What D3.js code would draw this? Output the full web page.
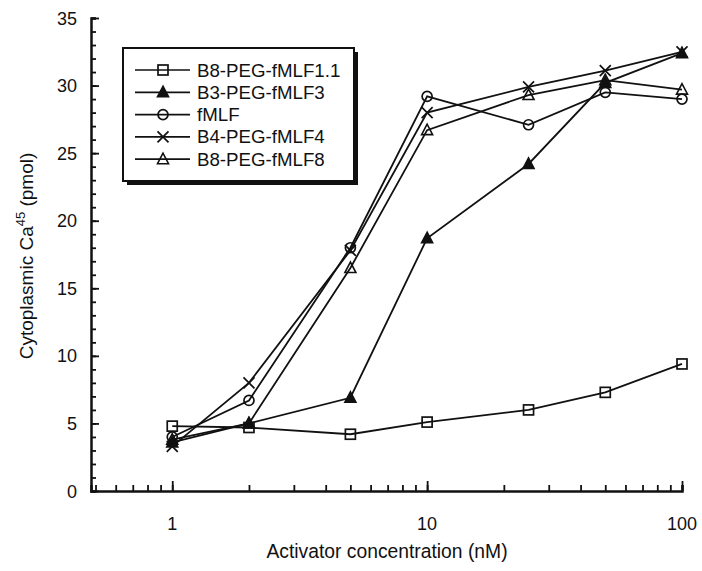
<!DOCTYPE html>
<html><head><meta charset="utf-8">
<script src="https://cdn.jsdelivr.net/npm/d3@7"></script>
<style>body{margin:0;background:#fff} svg{display:block} text{font-family:"Liberation Sans",Arial,Helvetica,sans-serif;fill:#111}</style>
</head><body><svg id="c" width="702" height="571"></svg>
<script>
// ---- data ----
const concentrations = [1, 2, 5, 10, 25, 50, 100];
const seriesNames = ["B8-PEG-fMLF1.1", "B3-PEG-fMLF3", "fMLF", "B4-PEG-fMLF4", "B8-PEG-fMLF8"];
const seriesMarkers = ["square", "filledTriangle", "circle", "cross", "triangle"];
const b8fmlf11 = [4.8, 4.7, 4.2, 5.1, 6.0, 7.3, 9.4];
const b3fmlf3  = [3.6, 5.0, 6.9, 18.7, 24.2, 30.2, 32.4];
const fmlf     = [4.0, 6.7, 18.0, 29.2, 27.1, 29.5, 29.0];
const b4fmlf4  = [3.3, 8.0, 17.8, 28.0, 29.9, 31.1, 32.5];
const b8fmlf8  = [3.8, 5.0, 16.5, 26.7, 29.3, 30.4, 29.7];
const yTickValues = [0, 5, 10, 15, 20, 25, 30, 35];
const xTickLabels = [1, 10, 100];
const xLabel = "Activator concentration (nM)";

const seriesValues = [b8fmlf11, b3fmlf3, fmlf, b4fmlf4, b8fmlf8];

const svg = d3.select("#c");
const x = d3.scaleLog().domain([0.48, 100]).range([91, 682]);
const y = d3.scaleLinear().domain([0, 35]).range([491, 18]);

const ink = "#111";

// ---- axes ----
const yMinor = d3.range(0, 36, 1);
const yAxisG = svg.append("g").attr("transform", `translate(${x.range()[0]},0)`);
yAxisG.call(d3.axisRight(y).tickValues(yMinor).tickSize(5).tickFormat(""));
yAxisG.append("g").call(d3.axisRight(y).tickValues(yTickValues).tickSize(8).tickFormat(""));
yAxisG.selectAll("g > g > path.domain").remove();
yAxisG.selectAll("path.domain").attr("stroke", ink).attr("stroke-width", 2.5);
yAxisG.selectAll(".tick line").attr("stroke", ink).attr("stroke-width", 1.8);
svg.append("g").selectAll("text").data(yTickValues).join("text")
  .attr("x", 77).attr("y", d => y(d) + 6.5)
  .attr("text-anchor", "end").attr("font-size", 18).text(d => d);

const xMinor = [];
[0.1, 1, 10].forEach(dec => { for (let k = 1; k <= 9; k++) { const v = dec * k; if (v >= 0.48 && v <= 100) xMinor.push(v); } });
xMinor.push(100);
const xAxisG = svg.append("g").attr("transform", `translate(0,${y(0)})`);
xAxisG.call(d3.axisTop(x).tickValues(xMinor).tickSize(6).tickFormat(""));
xAxisG.append("g").call(d3.axisTop(x).tickValues(xTickLabels).tickSize(10).tickFormat(""));
xAxisG.selectAll("g > g > path.domain").remove();
xAxisG.selectAll("path.domain").attr("stroke", ink).attr("stroke-width", 2.5);
xAxisG.selectAll(".tick line").attr("stroke", ink).attr("stroke-width", 1.8);
svg.append("g").selectAll("text").data(xTickLabels).join("text")
  .attr("x", d => x(d)).attr("y", 530)
  .attr("text-anchor", "middle").attr("font-size", 18).text(d => d);

// axis titles
svg.append("text").attr("x", 387).attr("y", 558).attr("text-anchor", "middle")
  .attr("font-size", 19.3).text(xLabel);
const yl = svg.append("text").attr("transform", "translate(33,256) rotate(-90)")
  .attr("text-anchor", "middle").attr("font-size", 19);
yl.append("tspan").text("Cytoplasmic Ca");
yl.append("tspan").attr("dy", -8).attr("font-size", 13).text("45");
yl.append("tspan").attr("dy", 8).text(" (pmol)");

// ---- markers ----
function drawMarker(g, type, cx, cy) {
  const s = 5;
  if (type === "square") {
    g.append("rect").attr("x", cx - s).attr("y", cy - s).attr("width", 2 * s).attr("height", 2 * s)
      .attr("fill", "none").attr("stroke", ink).attr("stroke-width", 1.7);
  } else if (type === "circle") {
    g.append("circle").attr("cx", cx).attr("cy", cy).attr("r", 5)
      .attr("fill", "none").attr("stroke", ink).attr("stroke-width", 1.7);
  } else if (type === "filledTriangle" || type === "triangle") {
    const pts = [[cx, cy - 6], [cx - 5.5, cy + 4.5], [cx + 5.5, cy + 4.5]];
    g.append("path").attr("d", d3.line()(pts) + "Z")
      .attr("fill", type === "filledTriangle" ? ink : "none").attr("stroke", ink).attr("stroke-width", 1.6);
  } else if (type === "cross") {
    g.append("path").attr("d", `M${cx - 5.5},${cy - 5.5}L${cx + 5.5},${cy + 5.5}M${cx - 5.5},${cy + 5.5}L${cx + 5.5},${cy - 5.5}`)
      .attr("stroke", ink).attr("stroke-width", 1.7);
  }
}

// ---- series ----
const line = d3.line().x(d => x(d[0])).y(d => y(d[1]));
seriesValues.forEach((vals, i) => {
  const pts = concentrations.map((c, j) => [c, vals[j]]);
  const g = svg.append("g");
  g.append("path").attr("d", line(pts)).attr("fill", "none").attr("stroke", ink).attr("stroke-width", 1.8);
  pts.forEach(p => drawMarker(g, seriesMarkers[i], x(p[0]), y(p[1])));
});

// ---- legend ----
const lg = svg.append("g");
lg.append("rect").attr("x", 127).attr("y", 52).attr("width", 231).attr("height", 133).attr("fill", ink);
lg.append("rect").attr("x", 123).attr("y", 48).attr("width", 231).attr("height", 133)
  .attr("fill", "#fff").attr("stroke", ink).attr("stroke-width", 2);
seriesNames.forEach((name, i) => {
  const cy = 70 + i * 22.3;
  lg.append("line").attr("x1", 135).attr("x2", 190).attr("y1", cy).attr("y2", cy)
    .attr("stroke", ink).attr("stroke-width", 1.7);
  drawMarker(lg, seriesMarkers[i], 163, cy);
  lg.append("text").attr("x", 197).attr("y", cy + 6.5).attr("font-size", 18.7).text(name);
});
</script></body></html>
